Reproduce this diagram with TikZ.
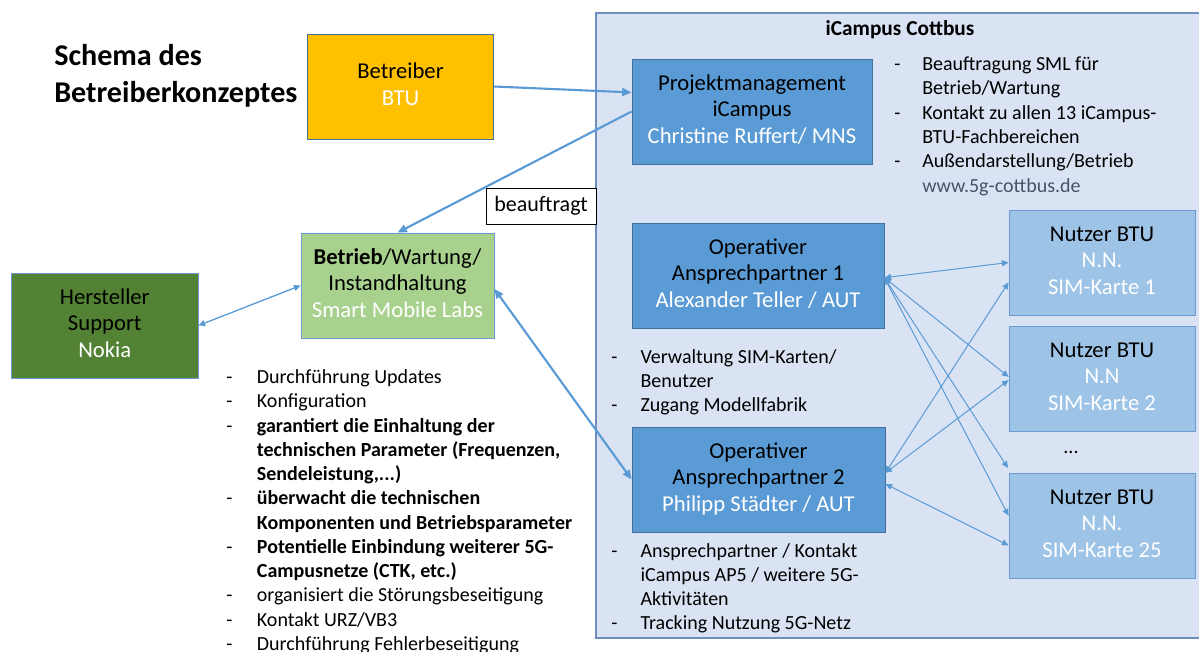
\documentclass[tikz,border=0pt]{standalone}
\usepackage{fontspec}
\setmainfont{Carlito}
\usetikzlibrary{arrows.meta}
\definecolor{gold}{HTML}{FFC000}
\definecolor{midblue}{HTML}{5B9BD5}
\definecolor{paleblue}{HTML}{9DC3E6}
\definecolor{campusbg}{HTML}{DAE3F3}
\definecolor{campusline}{HTML}{6F8DBE}
\definecolor{edgeblue}{HTML}{41719C}
\definecolor{lineblue}{HTML}{6A9BD3}
\definecolor{lightgreen}{HTML}{A9D18E}
\definecolor{darkgreen}{HTML}{548235}
\definecolor{slate}{HTML}{44546A}

\tikzset{
  box/.style={rectangle,draw=edgeblue,line width=0.6pt,inner sep=0pt,font=\fontsize{17}{20}\selectfont},
  liste/.style={inner sep=0pt,anchor=base west,font=\fontsize{15}{18.2}\selectfont},
  pfeil/.style={draw=midblue,line width=1.6pt,>={Triangle[length=7pt,width=6pt]}},
  pfeilchen/.style={draw=midblue,line width=0.75pt,>={Triangle[length=5pt,width=4.5pt]}},
}

\begin{document}
\begin{tikzpicture}[x=0.75pt,y=-0.75pt]
\useasboundingbox (0,0) rectangle (1199,651);
\draw[fill=campusbg,draw=campusline,line width=0.8pt] (596,13) rectangle (1215,638);
\node (CC) at (900,35.5) [anchor=base,font=\fontsize{16}{19}\selectfont\bfseries] {iCampus Cottbus};

\node (TITEL) at (54,65.5) [anchor=base west,inner sep=0pt,font=\fontsize{22.6}{27.75}\selectfont\bfseries] {\begin{tabular}[t]{@{}l@{}}Schema des\\ Betreiberkonzeptes\end{tabular}};

\node (BTU) at (400.5,86.5) [box,fill=gold,minimum width=140pt,minimum height=78.75pt] {\begin{tabular}{c}Betreiber\\ \textcolor{white}{BTU}\end{tabular}};
\node (PM) at (752,111.5) [box,fill=midblue,minimum width=180pt,minimum height=78.75pt] {\begin{tabular}{c}Projektmanagement\\ iCampus\\ \textcolor{white}{Christine Ruffert/ MNS}\end{tabular}};
\node (BA) at (541,206) [box,draw=black,fill=white,minimum width=82.5pt,minimum height=27pt,font=\fontsize{16.5}{20}\selectfont] {beauftragt};
\node (SML) at (397.5,285.5) [box,draw=lineblue,fill=lightgreen,minimum width=144.75pt,minimum height=78.75pt] {\begin{tabular}{c}\textbf{Betrieb}/Wartung/\\ Instandhaltung\\ \textcolor{white}{Smart Mobile Labs}\end{tabular}};
\node (NOK) at (104.75,325.5) [box,draw=lineblue,fill=darkgreen,minimum width=140pt,minimum height=78.75pt] {\begin{tabular}{c}Hersteller\\ Support\\ \textcolor{white}{Nokia}\end{tabular}};
\node (OP1) at (758,275.5) [box,fill=midblue,minimum width=189pt,minimum height=78.75pt] {\begin{tabular}{c}Operativer\\ Ansprechpartner 1\\ \textcolor{white}{Alexander Teller / AUT}\end{tabular}};
\node (OP2) at (758.5,479.5) [box,fill=midblue,minimum width=189.75pt,minimum height=78.75pt] {\begin{tabular}{c}Operativer\\ Ansprechpartner 2\\ \textcolor{white}{Philipp Städter / AUT}\end{tabular}};
\node (NU1) at (1102,262.5) [box,draw=lineblue,fill=paleblue,minimum width=139.5pt,minimum height=78.75pt] {\begin{tabular}{c}Nutzer BTU\\ \textcolor{white}{N.N.}\\ \textcolor{white}{SIM-Karte 1}\end{tabular}};
\node (NU2) at (1102,378.5) [box,draw=lineblue,fill=paleblue,minimum width=139.5pt,minimum height=78.75pt] {\begin{tabular}{c}Nutzer BTU\\ \textcolor{white}{N.N}\\ \textcolor{white}{SIM-Karte 2}\end{tabular}};
\node (NU25) at (1102,525.5) [box,draw=lineblue,fill=paleblue,minimum width=139.5pt,minimum height=78.75pt] {\begin{tabular}{c}Nutzer BTU\\ \textcolor{white}{N.N.}\\ \textcolor{white}{SIM-Karte 25}\end{tabular}};
\node (PUNKTE) at (1071,453) [anchor=base,font=\fontsize{15}{18}\selectfont] {...};
\coordinate (WEITERE) at (1008,468);

\node (PMLISTE) at (894,70.7) [liste] {\begin{tabular}[t]{@{}p{21pt}@{}l@{}}
- & Beauftragung SML für\\
  & Betrieb/Wartung\\
- & Kontakt zu allen 13 iCampus-\\
  & BTU-Fachbereichen\\
- & Außendarstellung/Betrieb\\
  & \textcolor{slate}{www.5g-cottbus.de}
\end{tabular}};
\node (SMLLISTE) at (226,383.5) [liste] {\begin{tabular}[t]{@{}p{23pt}@{}l@{}}
- & Durchführung Updates\\
- & Konfiguration\\
- & \textbf{garantiert die Einhaltung der}\\
  & \textbf{technischen Parameter (Frequenzen,}\\
  & \textbf{Sendeleistung,...)}\\
- & \textbf{überwacht die technischen}\\
  & \textbf{Komponenten und Betriebsparameter}\\
- & \textbf{Potentielle Einbindung weiterer 5G-}\\
  & \textbf{Campusnetze (CTK, etc.)}\\
- & organisiert die Störungsbeseitigung\\
- & Kontakt URZ/VB3\\
- & Durchführung Fehlerbeseitigung
\end{tabular}};
\node (OP1LISTE) at (611,363) [liste] {\begin{tabular}[t]{@{}p{22pt}@{}l@{}}
- & Verwaltung SIM-Karten/\\
  & Benutzer\\
- & Zugang Modellfabrik
\end{tabular}};
\node (OP2LISTE) at (611,557) [liste] {\begin{tabular}[t]{@{}p{22pt}@{}l@{}}
- & Ansprechpartner / Kontakt\\
  & iCampus AP5 / weitere 5G-\\
  & Aktivitäten\\
- & Tracking Nutzung 5G-Netz
\end{tabular}};

\draw[pfeil,->] (BTU.east) -- (PM.171);
\draw[pfeil,->] (PM.west) -- (SML.north);
\draw[pfeil,<->] (SML.-2) -- (OP2.west);
\draw[pfeilchen,<->,line width=1pt] (SML.west) -- (NOK.east);
\draw[pfeilchen,<->] (OP1.-1) -- (NU1.west);
\draw[pfeilchen,<->] (OP1.-1) -- (NU2.179);
\draw[pfeilchen,<->] (OP1.-1) -- (WEITERE);
\draw[pfeilchen,<->] (OP1.-1) -- (NU25.174);
\draw[pfeilchen,<->] (OP2.3) -- (NU1.192);
\draw[pfeilchen,<->] (OP2.3) -- (NU2.181);
\draw[pfeilchen,<->] (OP2.-2) -- (NU25.192);
\end{tikzpicture}
\end{document}
